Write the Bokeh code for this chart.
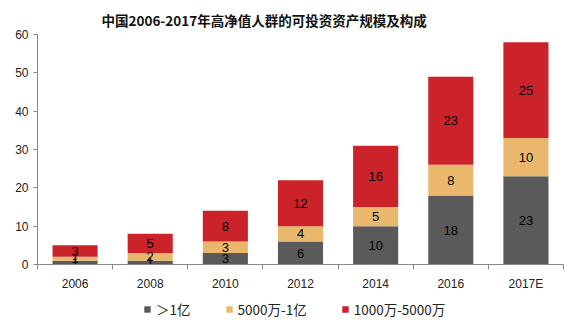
from bokeh.plotting import figure
from bokeh.layouts import column
from bokeh.models import ColumnDataSource, FixedTicker, Legend, LegendItem, Range1d
from bokeh.core.properties import value
from bokeh.embed import file_html
from bokeh.resources import INLINE

years = ["2006", "2008", "2010", "2012", "2014", "2016", "2017E"]
over_1yi = [1, 1, 3, 6, 10, 18, 23]
mid_5000w = [1, 2, 3, 4, 5, 8, 10]
low_1000w = [3, 5, 8, 12, 16, 23, 25]
series_names = ["＞1亿", "5000万-1亿", "1000万-5000万"]
colors = ["#5a5a5a", "#eab86c", "#cc2229"]
y_ticks = [0, 10, 20, 30, 40, 50, 60]

xs = list(range(len(years)))
src = ColumnDataSource(dict(x=xs, a=over_1yi, b=mid_5000w, c=low_1000w))

p = figure(width=571, height=296, output_backend="svg", toolbar_location=None,
           x_range=Range1d(-0.5, len(years) - 0.5), y_range=Range1d(0, 60),
           title="中国2006-2017年高净值人群的可投资资产规模及构成",
           min_border_left=37, min_border_right=8, min_border_top=34, min_border_bottom=32)
p.title.align = "left"
p.title.offset = 64
p.title.standoff = 6
p.title.vertical_align = "top"
p.title.text_font = "Noto Sans CJK SC"
p.title.text_font_size = "13.5px"
p.title.text_font_style = "bold"
p.title.text_color = "#111111"
p.outline_line_color = None
p.grid.visible = False

renderers = p.vbar_stack(["a", "b", "c"], x="x", width=0.6, color=colors, source=src, line_color=None)

# labels
vals = [over_1yi, mid_5000w, low_1000w]
lx, ly, lt = [], [], []
for i in range(len(years)):
    base = 0
    for s in vals:
        lx.append(xs[i]); ly.append(base + s[i] / 2); lt.append(str(s[i]))
        base += s[i]
p.text(x=lx, y=ly, text=lt, text_align="center", text_baseline="middle",
       text_font=value("Liberation Sans"), text_font_size="13px", text_color="#000000")

# axes
p.yaxis.ticker = FixedTicker(ticks=y_ticks)
p.yaxis.major_tick_in = 0
p.yaxis.major_tick_out = 4
p.yaxis.minor_tick_line_color = None
p.yaxis.axis_line_color = "#888888"
p.yaxis.major_tick_line_color = "#888888"
p.yaxis.major_label_text_font = "Liberation Sans"
p.yaxis.major_label_text_font_size = "12px"
p.yaxis.major_label_text_color = "#222222"

p.xaxis.ticker = FixedTicker(ticks=xs, minor_ticks=[x - 0.5 for x in xs] + [xs[-1] + 0.5])
p.xaxis.major_label_overrides = {x: y for x, y in zip(xs, years)}
p.xaxis.major_tick_line_color = None
p.xaxis.minor_tick_in = 0
p.xaxis.minor_tick_out = 5
p.xaxis.minor_tick_line_color = "#888888"
p.xaxis.axis_line_color = "#888888"
p.xaxis.major_label_text_font = "Liberation Sans"
p.xaxis.major_label_text_font_size = "12px"
p.xaxis.major_label_text_color = "#222222"
p.xaxis.major_label_standoff = 6

# legend strip
q = figure(width=571, height=30, output_backend="svg", toolbar_location=None,
           x_range=Range1d(0, 1), y_range=Range1d(0, 1),
           min_border=0, outline_line_color=None)
q.axis.visible = False
q.grid.visible = False
items = []
for n, c in zip(series_names, colors):
    r = q.vbar(x=[0.5], top=[0], bottom=[0], width=0.1, color=c, line_color=None)
    items.append(LegendItem(label=n, renderers=[r]))
legend = Legend(items=items, orientation="horizontal", location=(106, 7),
                label_text_font="Noto Sans CJK SC", label_text_font_size="13.5px",
                label_text_color="#222222",
                glyph_width=8, glyph_height=8, spacing=34, label_standoff=5,
                border_line_color=None, background_fill_alpha=0, padding=0, margin=0)
q.add_layout(legend, "center")

open("out.html", "w").write(file_html(column(p, q, spacing=0), INLINE))
